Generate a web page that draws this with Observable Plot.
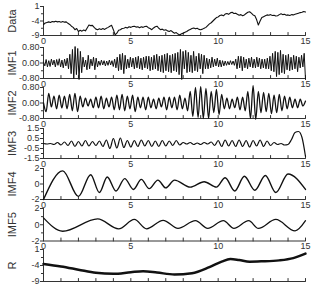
<!DOCTYPE html>
<html><head><meta charset="utf-8">
<script src="https://cdn.jsdelivr.net/npm/d3@7"></script>
<script src="https://cdn.jsdelivr.net/npm/@observablehq/plot@0.6"></script>
<style>
html,body{margin:0;padding:0;background:#fff;}
#chart{position:relative;width:319px;height:291px;overflow:hidden;background:#fff;}
#chart svg{position:absolute;left:0;}
</style></head><body><div id="chart"></div>
<script>
// ---------- data ----------
const panelNames = ["Data","IMF1","IMF2","IMF3","IMF4","IMF5","R"];

// Data: sampled every 0.1 from 0 to 15
const dataValues = [
-5.2,-4.7,-4.5,-4.3,-4.5,-4.2,-4.3,-4.1,-4.3,-4.2,
-4.4,-4.2,-4.4,-4.3,-4.8,-5.2,-5.8,-6.2,-7.0,-6.6,
-7.6,-7.2,-7.5,-7.1,-7.4,-6.4,-5.4,-5.6,-5.5,-6.2,
-6.8,-7.0,-6.7,-6.9,-6.6,-6.9,-6.5,-6.2,-5.8,-5.5,
-7.0,-8.8,-8.2,-7.2,-7.0,-6.6,-6.5,-6.2,-6.4,-6.0,
-6.2,-5.9,-5.8,-6.1,-6.0,-6.3,-6.0,-6.2,-5.9,-5.8,
-6.3,-6.6,-7.0,-6.4,-6.0,-5.8,-6.5,-7.0,-6.8,-7.2,
-7.0,-7.4,-7.6,-7.3,-7.8,-8.2,-8.0,-8.5,-8.8,-8.4,
-8.2,-7.9,-7.6,-7.2,-6.9,-6.6,-6.4,-6.7,-6.5,-6.9,
-7.0,-6.8,-6.5,-6.2,-5.6,-5.0,-4.6,-4.0,-3.4,-2.8,
-2.6,-2.1,-1.9,-2.2,-1.6,-1.4,-1.7,-1.2,-1.0,-1.4,
-1.3,-1.7,-2.0,-1.8,-2.2,-1.9,-1.4,-1.0,-0.8,-1.3,
-1.9,-2.2,-3.5,-5.4,-4.0,-2.8,-2.5,-2.2,-1.9,-2.0,
-1.8,-2.1,-2.0,-2.3,-2.2,-1.8,-1.5,-1.8,-1.7,-2.0,
-1.9,-2.1,-1.8,-1.9,-1.7,-1.5,-1.3,-1.1,-1.0,-0.7,
-0.9];

// IMF1: 200 samples over 0..15
const imf1Values = [
0.05,-0.15,0.18,-0.2,0.12,-0.18,0.2,-0.1,0.15,-0.2,
0.18,-0.12,0.22,-0.2,0.15,-0.25,0.2,-0.15,0.25,-0.3,
0.45,-0.55,0.7,-0.8,0.85,-0.6,0.75,-0.85,0.6,-0.5,
0.3,-0.2,0.15,-0.35,0.4,-0.3,0.2,-0.15,0.3,-0.35,
0.25,-0.2,0.1,-0.12,0.15,-0.1,0.12,-0.15,0.1,-0.12,
0.15,-0.1,0.12,-0.18,0.2,-0.25,0.3,-0.4,0.45,-0.35,
0.5,-0.55,0.4,-0.3,0.2,-0.25,0.3,-0.2,0.25,-0.3,
0.3,-0.25,0.35,-0.3,0.25,-0.35,0.3,-0.25,0.35,-0.3,
0.35,-0.4,0.3,-0.35,0.4,-0.3,0.45,-0.4,0.35,-0.45,
0.4,-0.5,0.45,-0.4,0.5,-0.45,0.4,-0.5,0.45,-0.4,
0.5,-0.45,0.55,-0.6,0.7,-0.85,0.6,-0.3,0.65,-0.5,
0.55,-0.45,0.4,-0.5,0.6,-0.4,0.35,-0.45,0.5,-0.3,
0.45,-0.55,0.4,-0.3,0.25,-0.3,0.2,-0.25,0.3,-0.2,
0.2,-0.15,0.25,-0.2,0.15,-0.2,0.12,-0.15,0.1,-0.12,
0.08,-0.1,0.12,-0.08,0.1,-0.12,0.2,-0.3,0.35,-0.25,
0.35,-0.4,0.3,-0.25,0.2,-0.3,0.25,-0.2,0.3,-0.25,
0.2,-0.25,0.3,-0.2,0.25,-0.3,0.2,-0.25,0.2,-0.3,
0.25,-0.3,0.35,-0.4,0.5,-0.45,0.6,-0.7,0.55,-0.6,
0.65,-0.5,0.45,-0.55,0.4,-0.35,0.45,-0.4,0.3,-0.35,
0.4,-0.3,0.35,-0.45,0.3,-0.25,0.4,-0.2,0.5,-0.85];

// IMF2: extrema every 0.15 over 0..15
const imf2Values = [
0.0,-0.45,0.5,-0.2,0.35,-0.3,0.4,-0.25,0.35,-0.3,
0.45,-0.4,0.5,-0.45,0.35,-0.2,0.25,-0.15,0.2,-0.25,
0.3,-0.25,0.35,-0.3,0.25,-0.2,0.3,-0.35,0.4,-0.35,
0.45,-0.4,0.35,-0.3,0.4,-0.45,0.3,-0.25,0.3,-0.35,
0.3,-0.25,0.2,-0.3,0.25,-0.2,0.3,-0.35,0.3,-0.25,
0.3,-0.35,0.4,-0.3,0.25,-0.4,0.6,-0.7,0.8,-0.75,
0.85,-0.8,0.75,-0.8,0.6,-0.5,0.7,-0.6,0.45,-0.3,
0.25,-0.3,0.2,-0.25,0.3,-0.35,0.3,-0.4,0.6,-0.8,
0.9,-0.85,0.6,-0.5,0.55,-0.45,0.5,-0.55,0.4,-0.5,
0.45,-0.4,0.35,-0.3,0.3,-0.25,0.2,-0.25,0.2,-0.15,0.1];

// IMF3: extrema every 0.2 over 0..15
const imf3Values = [
0.0,-0.05,0.0,-0.1,0.1,-0.15,
0.15,-0.2,0.25,-0.3,0.2,-0.25,0.3,-0.25,0.2,-0.2,
0.25,-0.3,0.35,-0.5,0.5,-0.45,0.55,-0.4,0.3,-0.35,
0.3,-0.3,0.35,-0.25,0.3,-0.3,0.25,-0.3,0.3,-0.25,
0.25,-0.2,0.3,-0.15,0.1,-0.05,0.1,-0.1,0.05,-0.1,
0.1,-0.05,0.15,-0.2,0.3,-0.3,0.35,-0.25,0.3,-0.3,
0.35,-0.3,0.3,-0.35,0.3,-0.25,0.35,-0.3,0.25,-0.2,
0.1,-0.1,0.0,-0.15,-0.1,0.4,1.1,1.2,0.6,-1.3];

// IMF4 extrema
const imf4T =      [0,1.1,2.0,2.7,3.2,3.65,4.15,4.65,5.15,5.6,6.05,6.55,7.0,7.5,8.4,9.2,9.9,10.4,10.95,11.5,12.1,12.7,13.3,14.0,15.0];
const imf4Values = [-2.0,1.7,-1.6,1.2,-1.1,0.9,-0.9,0.7,-0.7,0.6,-0.6,0.5,-0.5,0.5,-0.4,0.3,-0.4,0.8,-0.9,1.0,-0.8,1.1,-1.1,1.3,-0.7];

// IMF5 extrema
const imf5T =      [0,1.1,3.1,4.3,5.2,5.9,6.85,7.7,8.7,9.4,10.3,10.9,11.75,12.3,13.3,14.4,15.0];
const imf5Values = [0.85,-0.8,0.72,-0.5,0.65,-0.5,0.55,-0.45,0.5,-0.45,0.5,-0.45,0.5,-0.45,0.65,-0.75,0.5];

// Residual
const rT =      [0,1,2,3,4,5,5.7,6.5,7.5,8.5,9.5,10.2,10.7,11.2,11.8,12.5,13.5,14.3,15];
const rValues = [-3.5,-4.3,-5.3,-6.3,-6.6,-6.1,-5.8,-6.2,-6.8,-6.4,-4.5,-2.8,-2.0,-2.3,-2.8,-2.7,-2.4,-1.7,-0.3];

// ticks
const xTickLabels = [0,5,10,15];
const xMinorTicks = [0,1,2,3,4,5,6,7,8,9,10,11,12,13,14,15];
const dataTicks = [1,-4,-9],        dataTickLabels = ["1","-4","-9"];
const imfSmallTicks = [0.8,0,-0.8], imfSmallTickLabels = ["0.80","0.00","-0.80"];
const imf3Ticks = [1.5,0.5,-0.5,-1.5], imf3TickLabels = ["1.5","0.5","-0.5","-1.5"];
const imf45Ticks = [2,0,-2],       imf45TickLabels = ["2","0","-2"];

// ---------- build ----------
const uniform = vals => vals.map((v,i)=>({t: i*15/(vals.length-1), v}));
const paired = (ts, vals) => vals.map((v,i)=>({t: ts[i], v}));

const panels = [
  {series: uniform(dataValues), domain:[-9,1], ticks:dataTicks, labels:dataTickLabels, minor:[-1.5,-6.5], top:6, bottom:35, sw:1.1, curve:"linear"},
  {series: uniform(imf1Values), domain:[-0.8,0.8], ticks:imfSmallTicks, labels:imfSmallTickLabels, minor:[0.4,-0.4], top:46.5, bottom:77.5, sw:1.0, curve:"linear"},
  {series: uniform(imf2Values), domain:[-0.8,0.8], ticks:imfSmallTicks, labels:imfSmallTickLabels, minor:[0.4,-0.4], top:87, bottom:118, sw:1.3, curve:"monotone-x"},
  {series: uniform(imf3Values), domain:[-1.5,1.5], ticks:imf3Ticks, labels:imf3TickLabels, minor:[1,0,-1], top:128, bottom:158, sw:1.2, curve:"monotone-x"},
  {series: paired(imf4T, imf4Values), domain:[-2,2], ticks:imf45Ticks, labels:imf45TickLabels, minor:[1,-1], top:168, bottom:199, sw:1.4, curve:"monotone-x"},
  {series: paired(imf5T, imf5Values), domain:[-2,2], ticks:imf45Ticks, labels:imf45TickLabels, minor:[1,-1], top:207.5, bottom:240, sw:1.3, curve:"monotone-x"},
  {series: paired(rT, rValues), domain:[-9,1], ticks:dataTicks, labels:dataTickLabels, minor:[-1.5,-6.5], top:249, bottom:281, sw:2.5, curve:"monotone-x"}
];

const tickUp = {draw(ctx, l){ ctx.moveTo(0,0); ctx.lineTo(0,-l); }};
const axisColor = "#333";
const chart = document.getElementById("chart");

panels.forEach((p, i) => {
  const mt = 5, mb = 14;
  const ymin = p.domain[0];
  const marks = [
    Plot.ruleY([ymin], {stroke: axisColor, strokeWidth: 1}),
    Plot.ruleX([0], {stroke: axisColor, strokeWidth: 1}),
    Plot.vector(xMinorTicks, {x: d => d, y: d => ymin, length: 3, anchor: "start", shape: tickUp, stroke: axisColor, strokeWidth: 1}),
    Plot.axisY({ticks: p.ticks, tickFormat: d => p.labels[p.ticks.indexOf(d)], tickSize: 3, tickPadding: 1, label: null, color: axisColor, fontSize: 9}),
    Plot.axisY({ticks: p.minor, tickFormat: () => "", tickSize: 2, label: null, color: axisColor}),
    Plot.line(p.series, {x: "t", y: "v", stroke: "#111", strokeWidth: p.sw, curve: p.curve}),
    Plot.text([panelNames[i]], {frameAnchor: "left", dx: -31, rotate: -90, textAnchor: "middle", fontSize: 11, fill: "#333"})
  ];
  if (i < panels.length - 1) {
    marks.push(Plot.axisX({ticks: xTickLabels, tickSize: 0, tickPadding: 2, label: null, color: axisColor, fontSize: 9}));
  }
  const svg = Plot.plot({
    width: 319,
    height: mt + (p.bottom - p.top) + mb,
    marginLeft: 43, marginRight: 14, marginTop: mt, marginBottom: mb,
    x: {domain: [0, 15], axis: null},
    y: {domain: p.domain, axis: null},
    style: {background: "transparent", overflow: "visible", fontFamily: "'Liberation Sans Narrow','Liberation Sans',Arial,sans-serif", fontSize: "9px", color: "#333"},
    marks
  });
  svg.style.top = (p.top - mt) + "px";
  chart.appendChild(svg);
});
</script></body></html>
